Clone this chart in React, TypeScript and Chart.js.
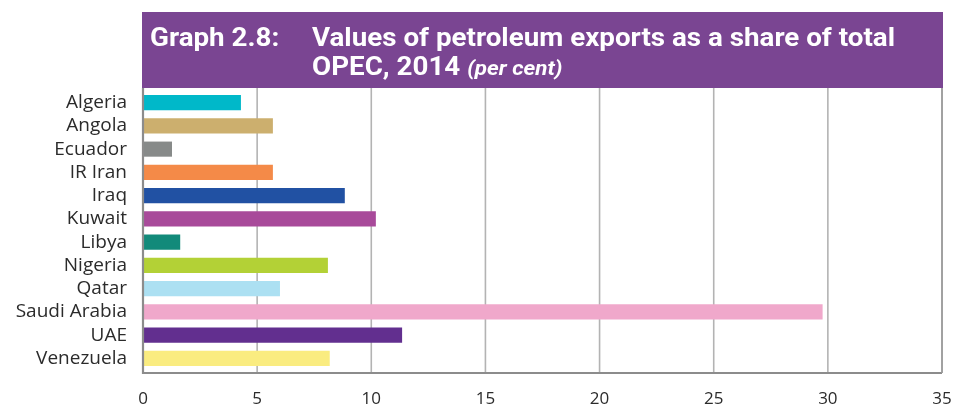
import React, { useEffect, useRef } from "react";
import { Chart, registerables } from "chart.js";

Chart.register(...registerables);

const countries = [
  "Algeria", "Angola", "Ecuador", "IR Iran", "Iraq", "Kuwait",
  "Libya", "Nigeria", "Qatar", "Saudi Arabia", "UAE", "Venezuela",
];
const shares = [4.29, 5.69, 1.27, 5.69, 8.84, 10.2, 1.63, 8.1, 6.0, 29.77, 11.35, 8.18];
const barColors = [
  "#00B8C9", "#CCAF6E", "#878A89", "#F48A48", "#2151A3", "#A84A9A",
  "#128A7A", "#B3D136", "#ACE0F2", "#F0A8CB", "#622F8F", "#FAEC80",
];
const xTicks = [0, 5, 10, 15, 20, 25, 30, 35];
const titleLabel = "Graph 2.8:";
const titleLine1 = "Values of petroleum exports as a share of total";
const titleLine2 = "OPEC, 2014";
const titleUnit = "(per cent)";

const framePlugin = {
  id: "framePlugin",
  beforeDatasetsDraw(chart: any) {
    const { ctx } = chart;
    const x = chart.scales.x;
    const top = 88;
    const bottom = 373;
    ctx.save();
    ctx.strokeStyle = "#B3B3B3";
    ctx.lineWidth = 1.6;
    xTicks.forEach((v) => {
      if (v === 0) return;
      const px = x.getPixelForValue(v);
      ctx.beginPath();
      ctx.moveTo(px, top);
      ctx.lineTo(px, bottom);
      ctx.stroke();
    });
    ctx.restore();
  },
  afterDatasetsDraw(chart: any) {
    const { ctx } = chart;
    const x = chart.scales.x;
    const left = x.getPixelForValue(0);
    const right = x.getPixelForValue(35);
    ctx.save();
    ctx.strokeStyle = "#8C8C8C";
    ctx.lineWidth = 2.2;
    ctx.beginPath();
    ctx.moveTo(left, 88);
    ctx.lineTo(left, 373);
    ctx.lineTo(right, 373);
    ctx.stroke();
    ctx.strokeStyle = "#9A9A9A";
    ctx.lineWidth = 1.6;
    ctx.beginPath();
    ctx.moveTo(right, 88);
    ctx.lineTo(right, 373);
    ctx.stroke();
    ctx.restore();
  },
  afterDraw(chart: any) {
    const { ctx } = chart;
    ctx.save();
    ctx.fillStyle = "#7A4592";
    ctx.fillRect(142, 12, 801, 76);
    ctx.fillStyle = "#FFFFFF";
    ctx.textBaseline = "alphabetic";
    ctx.textAlign = "left";
    const boldFont = "bold 26px Roboto, 'Noto Sans', sans-serif";
    ctx.font = boldFont;
    const natural = ctx.measureText(titleLine1).width;
    const ratio = 583 / natural;
    const drawScaled = (text: string, x: number, y: number, font: string) => {
      ctx.save();
      ctx.font = font;
      ctx.translate(x, y);
      ctx.scale(ratio, 1);
      ctx.fillText(text, 0, 0);
      const w = ctx.measureText(text).width * ratio;
      ctx.restore();
      return w;
    };
    drawScaled(titleLabel, 150, 46, boldFont);
    drawScaled(titleLine1, 312, 46, boldFont);
    const w2 = drawScaled(titleLine2 + " ", 312, 75, boldFont);
    drawScaled(titleUnit, 312 + w2, 75, "italic bold 21px Roboto, 'Noto Sans', sans-serif");
    ctx.restore();
  },
};

export default function App() {
  const ref = useRef<HTMLCanvasElement | null>(null);
  useEffect(() => {
    if (!ref.current) return;
    const chart = new Chart(ref.current, {
      type: "bar",
      data: {
        labels: countries,
        datasets: [
          {
            data: shares,
            backgroundColor: barColors,
            borderWidth: 0,
            categoryPercentage: 1,
            barPercentage: 0.65,
          },
        ],
      },
      options: {
        indexAxis: "y",
        animation: false,
        responsive: false,
        maintainAspectRatio: false,
        layout: { padding: { left: 0, right: 13, top: 91, bottom: 0 } },
        plugins: {
          legend: { display: false },
          title: { display: false },
          tooltip: { enabled: false },
        },
        scales: {
          x: {
            type: "linear",
            min: 0,
            max: 35,
            afterBuildTicks: (scale: any) => {
              scale.ticks = xTicks.map((v) => ({ value: v }));
            },
            afterFit: (scale: any) => {
              scale.height = 36;
              scale.paddingLeft = 0;
              scale.paddingRight = 0;
            },
            grid: { display: false, drawTicks: false },
            border: { display: false },
            ticks: {
              padding: 19,
              maxRotation: 0,
              autoSkip: false,
              color: "#2B2B2B",
              font: { family: "'Open Sans', 'Noto Sans', sans-serif", size: 17 },
            },
          },
          y: {
            type: "category",
            offset: true,
            afterFit: (scale: any) => {
              scale.width = 143;
              scale.paddingTop = 0;
              scale.paddingBottom = 0;
            },
            grid: { display: false, drawTicks: false },
            border: { display: false },
            ticks: {
              padding: 16,
              autoSkip: false,
              color: "#2B2B2B",
              font: { family: "'Open Sans', 'Noto Sans', sans-serif", size: 19 },
            },
          },
        },
      },
      plugins: [framePlugin],
    });
    return () => chart.destroy();
  }, []);
  return (
    <div style={{ position: "fixed", left: 0, top: 0, width: 955, height: 406, background: "#fff" }}>
      <canvas ref={ref} width={955} height={406} style={{ width: 955, height: 406, display: "block" }} />
    </div>
  );
}
